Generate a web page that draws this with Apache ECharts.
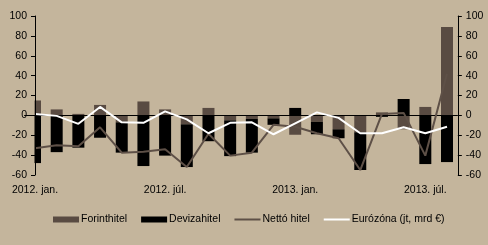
<!DOCTYPE html>
<html><head><meta charset="utf-8">
<script src="https://cdn.jsdelivr.net/npm/echarts@6/dist/echarts.min.js"></script>
<style>html,body{margin:0;padding:0;background:#C4B59C;}#c{width:488px;height:245px;}</style>
</head><body><div id="c"></div>
<script>
const months = ['2012. jan.','2012. febr.','2012. márc.','2012. ápr.','2012. máj.','2012. jún.','2012. júl.','2012. aug.','2012. szept.','2012. okt.','2012. nov.','2012. dec.',
  '2013. jan.','2013. febr.','2013. márc.','2013. ápr.','2013. máj.','2013. jún.','2013. júl.','2013. aug.'];
const forint = [15, 6, 1.5, 10.5, -7, 14, 6, -9, 7.5, -5, -3.5, -3, -19.5, -6.5, -14, -17, 3, -14, 8.5, 89];
const deviza = [-48, -37, -32.5, -22.5, -30.5, -51, -40.5, -43, -26, -36, -34, -6.5, 7.5, -12.5, -9, -38, -1.5, 16.5, -49, -47];
const netto = [-33, -30, -31, -12, -37.5, -36.5, -34, -52, -18.5, -40.5, -37.5, -9.5, -11.5, -18, -23, -55, 1.5, 2.5, -40.5, 42];
const euro = [1.3, -0.5, -8.5, 8.5, -7, -7.5, 4, -4, -18, -7.5, -7, -19, -8, 3, -2.5, -18, -18, -12, -18, -11.5];
const yTicks = {min: -60, max: 100, interval: 20};

const BG = '#C4B59C';
const W = 488, H = 245;
const axisX = 35, lastX = 447;             // first category centre sits on the left axis
const band = (lastX - axisX) / (months.length - 1);
const gridLeft = axisX - band / 2;
const gridRight = W - (lastX + band / 2);

const font = {fontFamily: 'Liberation Sans, Arial, sans-serif', fontSize: 10.5, color: '#000'};
const yAx = (pos, off) => ({
  type: 'value', position: pos, offset: off, z: 10, min: yTicks.min, max: yTicks.max, interval: yTicks.interval,
  axisLine: {show: true, lineStyle: {color: '#000', width: 1}},
  axisTick: {show: true, length: 4, lineStyle: {color: '#000'}},
  axisLabel: Object.assign({margin: 8}, font),
  splitLine: {show: false}
});
const chart = echarts.init(document.getElementById('c'), null, {renderer: 'canvas'});
chart.setOption({
  backgroundColor: BG,
  animation: false,
  grid: {left: gridLeft, right: gridRight, top: 16, bottom: 70, containLabel: false},
  xAxis: {
    type: 'category', data: months, boundaryGap: true,
    axisLine: {show: false}, axisTick: {show: false}, splitLine: {show: false},
    axisLabel: Object.assign({margin: 10, interval: 5}, font)
  },
  yAxis: [yAx('left', -(axisX - gridLeft)), yAx('right', 0)],
  graphic: [{type: 'rect', z: 3, silent: true,
    shape: {x: 0, y: 10, width: axisX - 0.5, height: 170}, style: {fill: BG}}],
  legend: {
    left: 53, top: 214, padding: 0, itemWidth: 26, itemHeight: 6, itemGap: 14,
    textStyle: Object.assign({padding: [0, 0, 0, -3]}, font),
    data: [
      {name: 'Forinthitel', icon: 'rect'},
      {name: 'Devizahitel', icon: 'rect'},
      {name: 'Nettó hitel', icon: 'path://M0,0 L26,0 L26,2 L0,2 Z', itemStyle: {color: '#5E5047'}},
      {name: 'Eurózóna (jt, mrd €)', icon: 'path://M0,0 L26,0 L26,2 L0,2 Z', itemStyle: {color: '#ffffff'}}
    ]
  },
  series: [
    {name: 'Forinthitel', type: 'bar', stack: 'h', barWidth: 12, data: forint,
      itemStyle: {color: '#594B42'},
      markLine: {silent: true, symbol: 'none', label: {show: false}, lineStyle: {color: '#000', width: 1, type: 'solid'},
        data: [{yAxis: 0}]}},
    {name: 'Devizahitel', type: 'bar', stack: 'h', barWidth: 12, data: deviza,
      itemStyle: {color: '#000000'}},
    {name: 'Nettó hitel', type: 'line', data: netto, symbol: 'none', z: 5,
      lineStyle: {color: '#5E5047', width: 2}, itemStyle: {color: '#5E5047'}},
    {name: 'Eurózóna (jt, mrd €)', type: 'line', data: euro, symbol: 'none', z: 6,
      lineStyle: {color: '#ffffff', width: 2}, itemStyle: {color: '#ffffff'}}
  ]
});
</script></body></html>
